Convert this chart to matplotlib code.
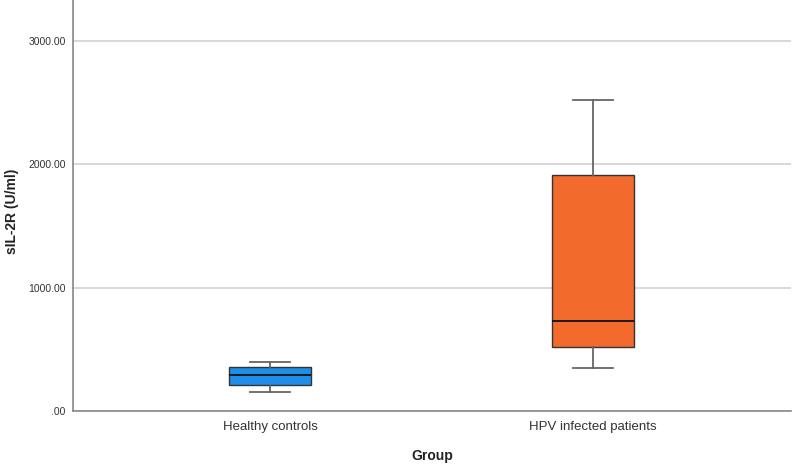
import matplotlib
matplotlib.use("Agg")
import matplotlib.pyplot as plt

groups = ["Healthy controls", "HPV infected patients"]
whisker_low = [157, 351]
q1 = [208, 521]
median = [294, 727]
q3 = [359, 1914]
whisker_high = [397, 2522]
y_ticks = [0, 1000, 2000, 3000]
y_tick_labels = [".00", "1000.00", "2000.00", "3000.00"]
colors = ["#1E8EE8", "#F26A2C"]

plt.rcParams['font.family'] = ['Liberation Sans', 'DejaVu Sans']

fig = plt.figure(figsize=(7.94, 4.68), dpi=100)
ax = fig.add_axes([72.7/794, 1-411/468, (791-72.7)/794, 411/468])

stats = []
for i, g in enumerate(groups):
    stats.append(dict(label=g, whislo=whisker_low[i], q1=q1[i], med=median[i],
                      q3=q3[i], whishi=whisker_high[i], fliers=[]))

ax.set_axisbelow(True)
ax.grid(axis='y', color='#D2D2D2', linewidth=1.2)
bp = ax.bxp(stats, positions=[1, 2], widths=0.252, patch_artist=True,
            showfliers=False,
            boxprops=dict(edgecolor='#333333', linewidth=1.0),
            medianprops=dict(color='#111111', linewidth=1.3),
            whiskerprops=dict(color='#666666', linewidth=1.3),
            capprops=dict(color='#666666', linewidth=1.3),
            capwidths=0.126)
for patch, c in zip(bp['boxes'], colors):
    patch.set_facecolor(c)

ax.set_xlim(0.389, 2.613)
ax.set_ylim(0, 3333)
ax.set_yticks(y_ticks)
ax.set_yticklabels(y_tick_labels, fontsize=7.5, color='#333333')
ax.tick_params(axis='both', length=0)
ax.tick_params(axis='y', pad=5)
ax.tick_params(axis='x', pad=7, labelsize=9.5, labelcolor='#333333')
for s in ['top', 'right']:
    ax.spines[s].set_visible(False)
for s in ['left', 'bottom']:
    ax.spines[s].set_color('#888888')
    ax.spines[s].set_linewidth(1.2)

ax.set_xlabel("Group", fontsize=10, fontweight='bold', labelpad=12, color='#222222')
fig.text(12.5/794, 1 - 211/468, "sIL-2R (U/ml)", rotation=90, ha='center', va='center',
         fontsize=10, fontweight='bold', color='#222222')

fig.savefig("out.png", dpi=100)
